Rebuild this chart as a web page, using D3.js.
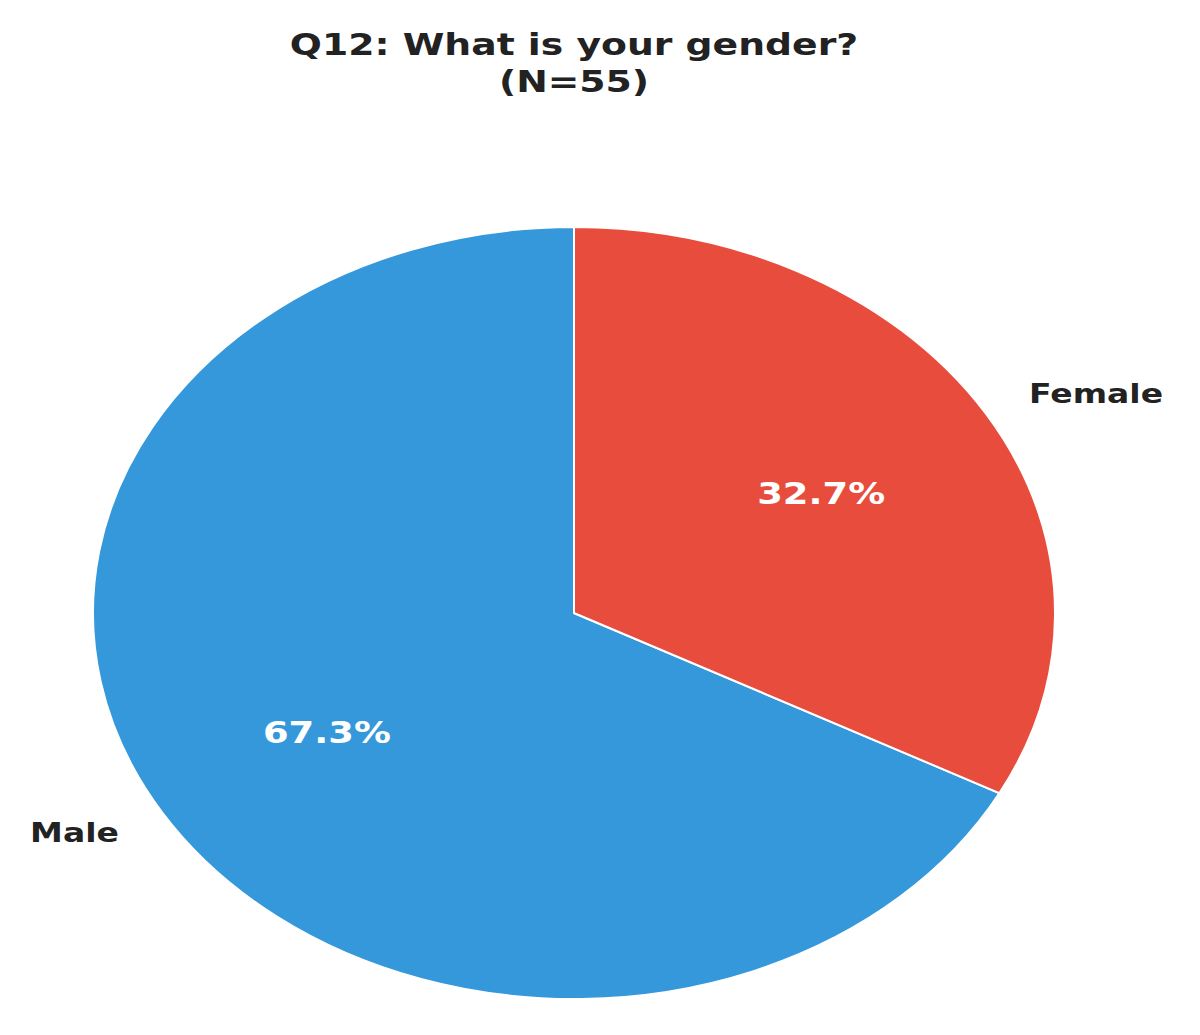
<!DOCTYPE html>
<html lang="en">
<head>
    <meta charset="UTF-8">
    <title>Q12: What is your gender?</title>
    <style>
        body { margin: 0; background: #fff; }
        svg { display: block; }
        text { font-family: "DejaVu Sans", sans-serif; font-weight: bold; }
        .slice { stroke: #fff; stroke-width: 2px; vector-effect: non-scaling-stroke; }
    </style>
</head>
<body>
    <svg width="1200" height="1035"></svg>
    <script src="https://d3js.org/d3.v7.min.js"></script>
    <script>
        // Data
        const categories = ["Male", "Female"];
        const counts = [37, 18];
        const colors = ["#3498db", "#e74c3c"];
        const titleLines = ["Q12: What is your gender?", "(N=55)"];

        const total = d3.sum(counts);
        const data = categories.map(function(c, i) { return { label: c, value: counts[i], color: colors[i] }; });

        // the picture is stretched horizontally, so draw on a circle and scale x
        const cx = 574, cy = 613, rx = 481, ry = 386;
        const sx = rx / ry;

        const svg = d3.select("svg");

        // Title
        const title = svg.append("g")
            .attr("transform", "translate(" + cx + ",55) scale(" + sx + ",1)");
        title.selectAll("text")
            .data(titleLines)
            .enter().append("text")
            .attr("y", function(d, i) { return i * 37; })
            .attr("text-anchor", "middle")
            .style("font-size", "30.3px")
            .style("fill", "#222")
            .text(function(d) { return d; });

        // Pie, counterclockwise from the top like matplotlib
        const pie = d3.pie()
            .sort(null)
            .value(function(d) { return d.value; })
            .startAngle(0)
            .endAngle(-2 * Math.PI);

        const arc = d3.arc().innerRadius(0).outerRadius(ry);

        const g = svg.append("g")
            .attr("transform", "translate(" + cx + "," + cy + ")");

        const arcs = pie(data);

        g.append("g")
            .attr("transform", "scale(" + sx + ",1)")
            .selectAll("path")
            .data(arcs)
            .enter().append("path")
            .attr("class", "slice")
            .attr("d", arc)
            .style("fill", function(d) { return d.data.color; });

        function pos(d, k) {
            const a = (d.startAngle + d.endAngle) / 2;
            return [rx * k * Math.sin(a), -ry * k * Math.cos(a)];
        }

        // Percent labels
        g.selectAll(".pct")
            .data(arcs)
            .enter().append("text")
            .attr("class", "pct")
            .attr("transform", function(d) { const p = pos(d, 0.6); return "translate(" + p[0] + "," + p[1] + ") scale(" + sx + ",1)"; })
            .attr("text-anchor", "middle")
            .attr("dy", "0.36em")
            .style("font-size", "29.6px")
            .style("fill", "#fff")
            .text(function(d) { return (d.data.value / total * 100).toFixed(1) + "%"; });

        // Category labels
        g.selectAll(".lbl")
            .data(arcs)
            .enter().append("text")
            .attr("class", "lbl")
            .attr("transform", function(d) { const p = pos(d, 1.1); return "translate(" + (p[0] + (p[0] > 0 ? 2 : -2)) + "," + p[1] + ") scale(" + sx + ",1)"; })
            .attr("text-anchor", function(d) { return pos(d, 1)[0] > 0 ? "start" : "end"; })
            .attr("dy", "0.36em")
            .style("font-size", "26.5px")
            .style("fill", "#222")
            .text(function(d) { return d.data.label; });
    </script>
</body>
</html>
